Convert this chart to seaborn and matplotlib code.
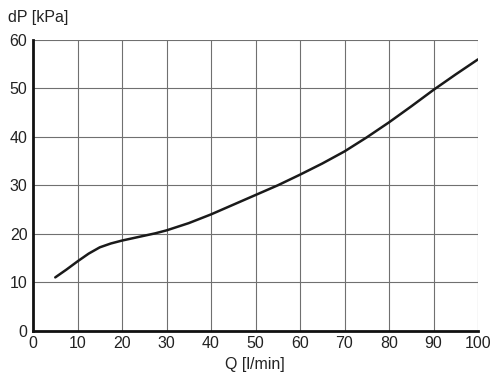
import matplotlib
matplotlib.use("Agg")
import matplotlib.pyplot as plt
import seaborn as sns
import pandas as pd

# flow vs pressure drop
flow = [5, 7.5, 10, 12.5, 15, 17.5, 20, 22.5, 25, 27.5, 30, 35, 40, 45, 50, 55,
        60, 65, 70, 75, 80, 85, 90, 95, 100]
dp = [11, 12.6, 14.3, 15.9, 17.2, 18.0, 18.6, 19.1, 19.6, 20.1, 20.7, 22.2, 24, 26, 28, 30,
      32.2, 34.5, 37, 39.9, 43, 46.3, 49.7, 52.9, 56]
x_ticks = list(range(0, 101, 10))
y_ticks = list(range(0, 61, 10))

sns.set_style("white")
plt.rcParams['font.family'] = ['Liberation Sans', 'DejaVu Sans']

df = pd.DataFrame({"Q": flow, "dP": dp})

fig = plt.figure(figsize=(5, 3.83), dpi=100)
ax = fig.add_axes([0.066, 0.1366, 0.89, 0.759])

sns.lineplot(data=df, x="Q", y="dP", ax=ax, color="#1a1a1a", linewidth=1.8)

ax.set_xlim(0, 100)
ax.set_ylim(0, 60)
ax.set_xticks(x_ticks)
ax.set_yticks(y_ticks)
ax.grid(True, color="#707070", linewidth=0.8)
ax.tick_params(axis="both", length=0, labelsize=11.5, colors="#222222", pad=4)

for s in ["top", "right"]:
    ax.spines[s].set_visible(False)
for s in ["left", "bottom"]:
    ax.spines[s].set_color("#111111")
    ax.spines[s].set_linewidth(2)

ax.set_xlabel("")
ax.set_ylabel("")
fig.text(0.51, 0.047, "Q [l/min]", ha="center", va="center", fontsize=11.5, color="#222222")
fig.text(0.016, 0.955, "dP [kPa]", ha="left", va="center", fontsize=11.5, color="#222222")

fig.savefig("out.png", dpi=100)
